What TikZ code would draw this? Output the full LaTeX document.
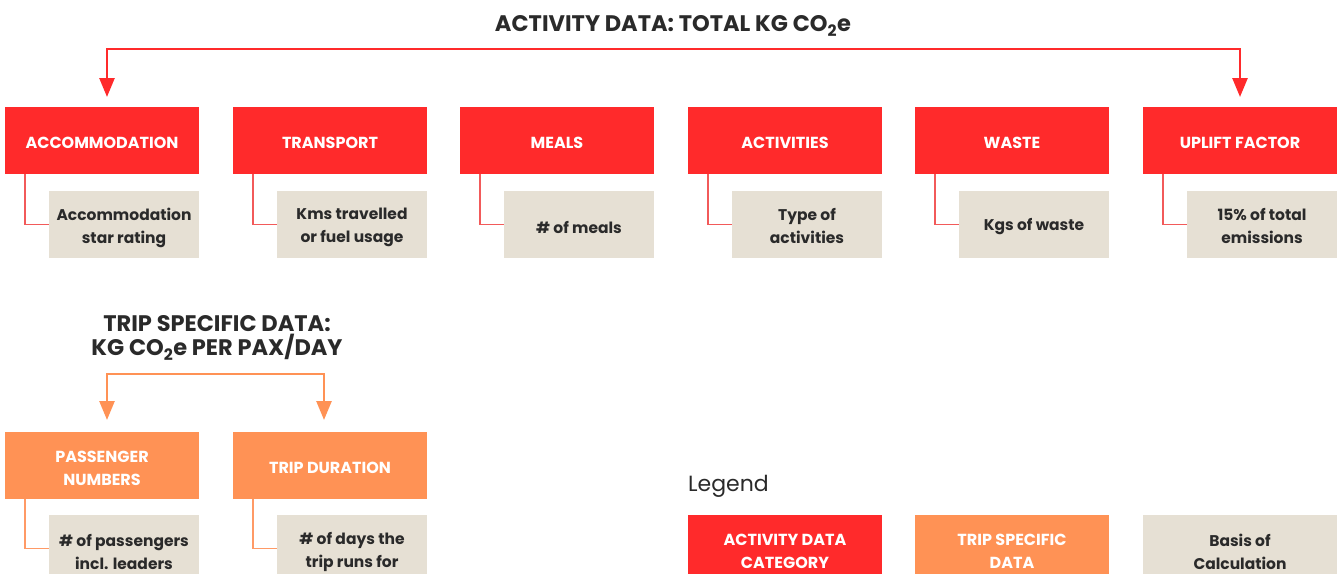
\documentclass[tikz,border=0pt]{standalone}
\usepackage{fontspec}
\setmainfont{Poppins}
\usetikzlibrary{arrows.meta,positioning,calc}
\definecolor{cred}{HTML}{FF2A2B}
\definecolor{corange}{HTML}{FF9255}
\definecolor{cbeige}{HTML}{E6E0D4}
\definecolor{cline}{HTML}{F25A5A}
\definecolor{cline2}{HTML}{FF9A66}
\definecolor{ctext}{HTML}{2A2A2A}
\begin{document}
\begin{tikzpicture}[x=1pt,y=-1pt,
  catbox/.style={fill=cred,minimum width=194pt,minimum height=67pt,inner sep=0pt},
  tripbox/.style={catbox,fill=corange},
  basisbox/.style={fill=cbeige,minimum width=150pt,minimum height=67pt,inner sep=0pt},
  legbox/.style={basisbox,minimum width=194pt},
  cattext/.style={text=white,inner sep=0pt,align=center,font=\bfseries\fontsize{16}{23}\selectfont},
  basistext/.style={text=ctext,inner sep=0pt,align=center,font=\bfseries\fontsize{15.5}{23}\selectfont},
  conn/.style={draw=cline,line width=1.5pt},
  conn2/.style={draw=cline2,line width=1.5pt},
  bigarr/.style={draw=cred,line width=2.6pt,{Triangle[width=15pt,length=19pt]}-{Triangle[width=15pt,length=19pt]}},
  orarr/.style={draw=corange,line width=2.6pt,{Triangle[width=15pt,length=19pt]}-{Triangle[width=15pt,length=19pt]}},
  title/.style={text=ctext,align=center,font=\bfseries\fontsize{22.5}{24}\selectfont}
]
\useasboundingbox (0,0) rectangle (1338,573);

\node[title] (t1) at (673,26) {ACTIVITY DATA: TOTAL KG CO\textsubscript{2}e};

\foreach \i/\L/\lab/\sub/\sh in {1/5/ACCOMMODATION/{Accommodation\\star rating}/3,
  2/233/TRANSPORT/{Kms travelled\\or fuel usage}/3,
  3/460/MEALS/{\# of meals}/2.5,
  4/688/ACTIVITIES/{Type of\\activities}/1.5,
  5/915/WASTE/{Kgs of waste}/2.5,
  6/1143/UPLIFT FACTOR/{15\% of total\\emissions}/1.5}{
  \node[catbox] (r\i) at (\L+97,140.5) {};
  \node[cattext] (r\i t) at ([yshift=-2pt]r\i.center) {\lab};
  \node[basisbox] (g\i) at (\L+119,224.5) {};
  \node[basistext] (g\i t) at ([yshift=-\sh pt]g\i.center) {\sub};
  \draw[conn] ([xshift=20pt]r\i.south west) |- (g\i.west);
}

\coordinate (a1) at (107,97);
\coordinate (a2) at (1240,97);
\coordinate (b1) at (107,49);
\coordinate (b2) at (1240,49);
\draw[bigarr] (a1) -- (b1) -- (b2) -- (a2);

\node[title] (t2) at (217,338) {TRIP SPECIFIC DATA:\\KG CO\textsubscript{2}e PER PAX/DAY};

\node[tripbox] (o1) at (102,465.5) {};
\node[cattext] (o1t) at ([yshift=-3pt]o1.center) {PASSENGER\\NUMBERS};
\node[tripbox] (o2) at (330,465.5) {};
\node[cattext] (o2t) at ([yshift=-2pt]o2.center) {TRIP DURATION};
\node[basisbox] (h1) at (124,548.5) {};
\node[basistext] (h1t) at ([yshift=-3pt]h1.center) {\# of passengers\\incl. leaders};
\node[basisbox] (h2) at (352,548.5) {};
\node[basistext] (h2t) at ([yshift=-3pt]h2.center) {\# of days the\\trip runs for};
\draw[conn2] ([xshift=20pt]o1.south west) |- (h1.west);
\draw[conn2] ([xshift=20pt]o2.south west) |- (h2.west);

\coordinate (c1) at (107,420);
\coordinate (c2) at (324,420);
\coordinate (d1) at (107,374);
\coordinate (d2) at (324,374);
\draw[orarr] (c1) -- (d1) -- (d2) -- (c2);

\node[anchor=west,text=ctext,font=\fontsize{22}{24}\selectfont,inner sep=0pt] (leg) at (688,486) {Legend};
\node[catbox] (l1) at (785,548.5) {};
\node[cattext] (l1t) at ([yshift=-3pt]l1.center) {ACTIVITY DATA\\CATEGORY};
\node[tripbox] (l2) at (1012,548.5) {};
\node[cattext] (l2t) at ([yshift=-3pt]l2.center) {TRIP SPECIFIC\\DATA};
\node[legbox] (l3) at (1240,548.5) {};
\node[basistext] (l3t) at ([yshift=-3pt]l3.center) {Basis of\\Calculation};
\end{tikzpicture}
\end{document}
